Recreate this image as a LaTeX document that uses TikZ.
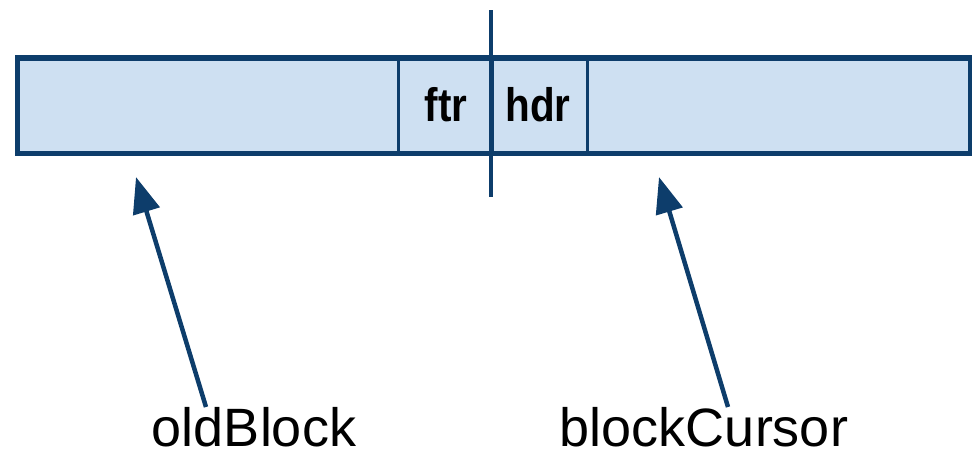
\documentclass[tikz,border=0pt]{standalone}
\usepackage{fontspec}
\setmainfont{Liberation Sans}
\usetikzlibrary{arrows.meta}
\definecolor{edge}{HTML}{0D3D6B}
\definecolor{cellfill}{HTML}{CEE0F2}
\tikzset{
  cell/.style={draw=edge, line width=3pt, fill=cellfill, minimum height=93pt, inner sep=0pt, anchor=north west},
  celltext/.style={font=\fontsize{47}{50}\selectfont\bfseries},
  lbl/.style={font=\fontsize{54}{60}\selectfont, anchor=base, inner sep=0pt},
  ptr/.style={draw=edge, line width=4.5pt, -{Triangle[length=36pt,width=27pt]}},
  cut/.style={draw=edge, line width=3.5pt}
}
\begin{document}
\begin{tikzpicture}[x=1pt,y=-1pt]
\useasboundingbox (0,0) rectangle (972,458);
\node[cell, minimum width=380pt] (c1) at (17,57.5) {};
\node[cell, minimum width=94pt] (c2) at (397,57.5) {};
\node[cell, minimum width=95pt] (c3) at (491,57.5) {};
\node[cell, minimum width=382pt] (c4) at (586,57.5) {};
\draw[edge, line width=4.5pt] (c1.north west) rectangle (c4.south east);
\node[celltext, anchor=base] (ftr) at (446,121) {\scalebox{0.86}[1]{ftr}};
\node[celltext, anchor=base] (hdr) at (538,121) {\scalebox{0.86}[1]{hdr}};
\coordinate (cuttop) at (491,10);
\coordinate (cutbot) at (491,197);
\draw[cut] (cuttop) -- (cutbot);
\node[lbl] (old) at (254,446) {oldBlock};
\node[lbl] (cur) at (704,446) {blockCursor};
\coordinate (oldtail) at (206,407);
\coordinate (oldtip) at (136,177);
\coordinate (curtail) at (728,407);
\coordinate (curtip) at (659,177);
\draw[ptr] (oldtail) -- (oldtip);
\draw[ptr] (curtail) -- (curtip);
\end{tikzpicture}
\end{document}
